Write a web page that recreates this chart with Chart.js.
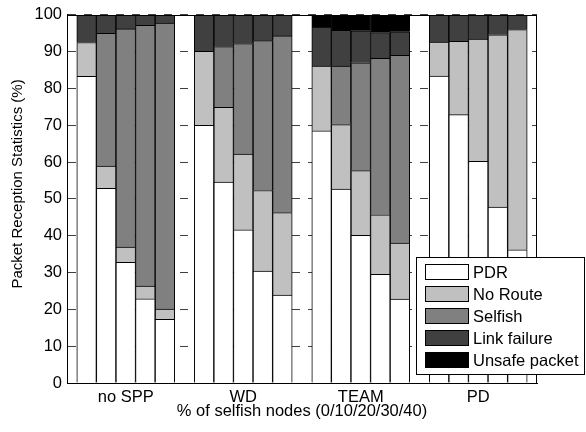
<!DOCTYPE html>
<html>
<head>
<meta charset="utf-8">
<script src="https://cdn.jsdelivr.net/npm/chart.js@4.4.0/dist/chart.umd.min.js"></script>
<style>
  html, body { margin: 0; padding: 0; background: #fff; }
</style>
</head>
<body>
<canvas id="statsChart" width="586" height="432"></canvas>
<script>
'use strict';

// groups along the x axis, 5 bars each (0/10/20/30/40 % selfish nodes)
const groups = ['no SPP', 'WD', 'TEAM', 'PD'];
const selfishLevels = [0, 10, 20, 30, 40];
const yTicks = [0, 10, 20, 30, 40, 50, 60, 70, 80, 90, 100];

// values, 5 per group in the order of groups
const pdr         = [83.3, 52.9, 32.8, 22.9, 17.3,  70.0, 54.6, 41.6, 30.4, 23.9,  68.5, 52.7, 40.1, 29.5, 22.8,  83.4, 72.9, 60.2, 47.8, 36.2];
const noRoute     = [ 9.2,  6.0,  4.1,  3.4,  2.8,  20.1, 20.3, 20.6, 21.9, 22.4,  17.6, 17.5, 17.6, 16.2, 15.2,   9.2, 19.9, 33.2, 46.8, 59.8];
const selfish     = [ 0.0, 36.1, 59.3, 70.9, 77.7,   0.0, 16.5, 30.0, 40.7, 48.0,   0.0, 15.9, 29.3, 42.5, 51.0,   0.0,  0.0,  0.0,  0.0,  0.0];
const linkFailure = [ 7.5,  5.0,  3.8,  2.8,  2.2,   9.9,  8.6,  7.8,  7.0,  5.7,  10.6,  9.7,  8.7,  7.0,  6.4,   7.4,  7.2,  6.6,  5.4,  4.0];
const unsafePkt   = [ 0.0,  0.0,  0.0,  0.0,  0.0,   0.0,  0.0,  0.0,  0.0,  0.0,   3.3,  4.2,  4.3,  4.8,  4.6,   0.0,  0.0,  0.0,  0.0,  0.0];

const FONT = '"Liberation Sans", Arial, sans-serif';

// one empty slot before, and one after every group (gap / right padding)
const slotLabels = [''];
groups.forEach(g => {
    selfishLevels.forEach((lvl, i) => slotLabels.push(i === 2 ? g : ''));
    slotLabels.push('');
});

function toSlots(values) {
    const out = [null];
    groups.forEach((g, gi) => {
        selfishLevels.forEach((lvl, i) => out.push(values[gi * selfishLevels.length + i]));
        out.push(null);
    });
    return out;
}

// box round the plot area
const frame = {
    id: 'frame',
    afterDatasetsDraw(chart) {
        const {ctx, chartArea: a} = chart;
        ctx.save();
        ctx.strokeStyle = '#000';
        ctx.lineWidth = 1;
        ctx.strokeRect(Math.round(a.left) + 0.5, Math.round(a.top) + 0.5,
            Math.round(a.right - a.left) - 1, Math.round(a.bottom - a.top));
        ctx.restore();
    }
};

// y title, a bit above the middle like the original
const yTitle = {
    id: 'yTitle',
    afterDraw(chart) {
        const ctx = chart.ctx;
        ctx.save();
        ctx.translate(18, 184);
        ctx.rotate(-Math.PI / 2);
        ctx.font = '15px ' + FONT;
        ctx.fillStyle = '#000';
        ctx.textAlign = 'center';
        ctx.textBaseline = 'middle';
        ctx.fillText('Packet Reception Statistics (%)', 0, 0);
        ctx.restore();
    }
};

// legend box sitting over the lower right corner
const legendBox = {
    id: 'legendBox',
    afterDraw(chart) {
        const ctx = chart.ctx;
        ctx.save();
        ctx.fillStyle = '#fff';
        ctx.fillRect(416, 257, 169, 118);
        ctx.strokeStyle = '#000';
        ctx.lineWidth = 1;
        ctx.strokeRect(416.5, 257.5, 168, 117);
        ctx.font = '16.5px ' + FONT;
        ctx.textBaseline = 'middle';
        chart.data.datasets.forEach((ds, i) => {
            const y = 264 + i * 22;
            ctx.fillStyle = ds.backgroundColor;
            ctx.fillRect(425, y, 44, 16);
            ctx.strokeRect(425.5, y + 0.5, 43, 15);
            ctx.fillStyle = '#000';
            ctx.fillText(ds.label, 473, y + 9);
        });
        ctx.restore();
    }
};

const CHART = document.getElementById('statsChart');

const series = [
    ['PDR', pdr, '#ffffff'],
    ['No Route', noRoute, '#c0c0c0'],
    ['Selfish', selfish, '#808080'],
    ['Link failure', linkFailure, '#404040'],
    ['Unsafe packet', unsafePkt, '#000000']
];

let statsChart = new Chart(CHART, {
    type: 'bar',
    data: {
        labels: slotLabels,
        datasets: series.map(s => ({
            label: s[0],
            data: toSlots(s[1]),
            backgroundColor: s[2],
            borderColor: '#000',
            borderWidth: 1,
            barPercentage: 1,
            categoryPercentage: 1
        }))
    },
    options: {
        responsive: false,
        animation: false,
        devicePixelRatio: 1,
        layout: { padding: { left: 0, right: 49, top: 14, bottom: 0 } },
        plugins: {
            legend: { display: false },
            tooltip: { enabled: false }
        },
        scales: {
            x: {
                stacked: true,
                offset: false,
                grid: { display: false, drawTicks: false },
                border: { display: true, color: '#000', width: 1 },
                ticks: {
                    autoSkip: false,
                    maxRotation: 0,
                    padding: 5,
                    color: '#000',
                    font: { family: FONT, size: 16.5 }
                },
                title: {
                    display: true,
                    text: '% of selfish nodes (0/10/20/30/40)',
                    color: '#000',
                    font: { family: FONT, size: 16.5 },
                    padding: { top: 0, bottom: 11 }
                },
                afterFit(scale) { scale.height = 49; }
            },
            y: {
                stacked: true,
                min: yTicks[0],
                max: yTicks[yTicks.length - 1],
                afterBuildTicks(scale) { scale.ticks = yTicks.map(v => ({ value: v })); },
                grid: { color: '#404040', lineWidth: 1, drawTicks: false },
                border: { display: true, color: '#000', width: 1, dash: [8, 8] },
                ticks: {
                    padding: 5,
                    color: '#000',
                    font: { family: FONT, size: 16.5 }
                },
                afterFit(scale) { scale.width = 67; }
            }
        }
    },
    plugins: [frame, yTitle, legendBox]
});
</script>
</body>
</html>
